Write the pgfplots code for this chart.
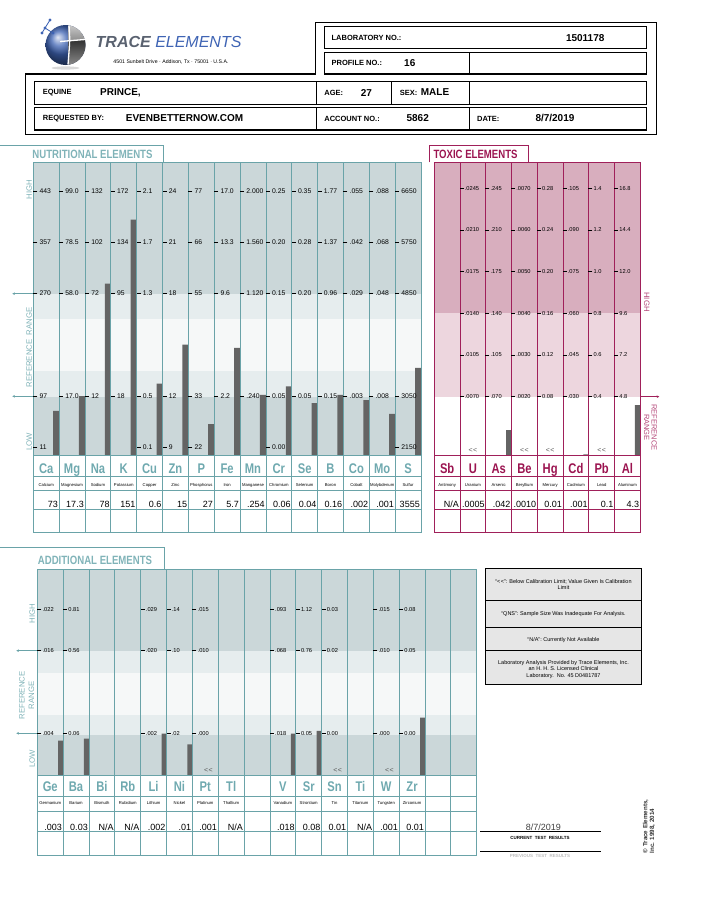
\documentclass[border=0pt]{standalone}
\usepackage{fontspec}
\setmainfont{Liberation Sans}
\newfontfamily\condfont[FakeStretch=0.8]{Liberation Sans}
\usepackage{pgfplots}
\usepackage{pgfplotstable}
\pgfplotsset{compat=1.18}
\usetikzlibrary{arrows.meta}

\definecolor{tealline}{HTML}{6AA3A8}
\definecolor{tealtext}{HTML}{80B3B8}
\definecolor{tealsym}{HTML}{6FA9AF}
\definecolor{banddark}{HTML}{CBD7D9}
\definecolor{bandmid}{HTML}{E6EDEE}
\definecolor{bandlight}{HTML}{F6F8F8}
\definecolor{crim}{HTML}{9B1450}
\definecolor{crimline}{HTML}{A0205A}
\definecolor{crimsoft}{HTML}{B4497A}
\definecolor{pinkdark}{HTML}{D8AEBE}
\definecolor{pinklight}{HTML}{EDD6DE}
\definecolor{barcol}{HTML}{646464}
\definecolor{legfill}{HTML}{E6E6E6}
\definecolor{logoblue}{HTML}{3F64B4}
\definecolor{logogray}{HTML}{5A6270}

\newcommand\fs[1]{\fontsize{#1bp}{#1bp}\selectfont}
\protected\def\bcl{<\kern0.4bp<}

\pgfplotsset{
  panel/.style={scale only axis, anchor=north west, enlargelimits=false, axis on top, clip=false,
    xmajorgrids, ymajorgrids, major tick length=0pt, xticklabels={}, yticklabels={},
    grid style={solid, line width=0.8bp, #1}, axis line style={line width=0.8bp, #1}},
  txt/.style={only marks, mark=*, mark size=0pt, mark options={draw=none, fill=none},
    nodes near coords, point meta=explicit symbolic,
    every node near coord/.append style={inner sep=0pt, #1}},
  tck/.style={only marks, mark=-, mark size=2bp, mark options={draw=black, line width=0.6bp},
    nodes near coords, point meta=explicit symbolic,
    every node near coord/.append style={anchor=west, inner sep=0pt, text=black, #1}},
  below/.style={only marks, mark=*, mark size=0pt, mark options={draw=none, fill=none},
    nodes near coords={\bcl},
    every node near coord/.append style={anchor=center, inner sep=0pt, font=\fs{7}, text=black!65}},
}

% nutritional elements
\pgfplotstableread{
c s n v
0 Ca Calcium 73
1 Mg Magnesium 17.3
2 Na Sodium 78
3 K Potassium 151
4 Cu Copper 0.6
5 Zn Zinc 15
6 P Phosphorus 27
7 Fe Iron 5.7
8 Mn Manganese .254
9 Cr Chromium 0.06
10 Se Selenium 0.04
11 B Boron 0.16
12 Co Cobalt .002
13 Mo Molybdenum .001
14 S Sulfur 3555
}\nutri
% bar heights in scale steps (0 = lowest tick)
\pgfplotstableread{
c lv
0 0.71
1 1.00
2 3.19
3 4.44
4 1.24
5 2.00
6 0.45
7 1.94
8 1.02
9 1.19
10 0.86
11 1.02
12 0.92
13 0.65
14 1.55
}\nutbars
\pgfplotstableread{
c lv l
0 5 443
0 4 357
0 3 270
0 1 97
0 0 11
1 5 99.0
1 4 78.5
1 3 58.0
1 1 17.0
2 5 132
2 4 102
2 3 72
2 1 12
3 5 172
3 4 134
3 3 95
3 1 18
4 5 2.1
4 4 1.7
4 3 1.3
4 1 0.5
4 0 0.1
5 5 24
5 4 21
5 3 18
5 1 12
5 0 9
6 5 77
6 4 66
6 3 55
6 1 33
6 0 22
7 5 17.0
7 4 13.3
7 3 9.6
7 1 2.2
8 5 2.000
8 4 1.560
8 3 1.120
8 1 .240
9 5 0.25
9 4 0.20
9 3 0.15
9 1 0.05
9 0 0.00
10 5 0.35
10 4 0.28
10 3 0.20
10 1 0.05
11 5 1.77
11 4 1.37
11 3 0.96
11 1 0.15
12 5 .055
12 4 .042
12 3 .029
12 1 .003
13 5 .088
13 4 .068
13 3 .048
13 1 .008
14 5 6650
14 4 5750
14 3 4850
14 1 3050
14 0 2150
}\nutticks

% toxic elements
\pgfplotstableread{
c s n v
0 Sb Antimony N/A
1 U Uranium .0005
2 As Arsenic .042
3 Be Beryllium .0010
4 Hg Mercury 0.01
5 Cd Cadmium .001
6 Pb Lead 0.1
7 Al Aluminum 4.3
}\tox
\pgfplotstableread{
c lv
2 -0.80
5 -1.38
7 -0.20
}\toxbars
\pgfplotstableread{
c lv l
1 5 .0245
1 4 .0210
1 3 .0175
1 2 .0140
1 1 .0105
1 0 .0070
2 5 .245
2 4 .210
2 3 .175
2 2 .140
2 1 .105
2 0 .070
3 5 .0070
3 4 .0060
3 3 .0050
3 2 .0040
3 1 .0030
3 0 .0020
4 5 0.28
4 4 0.24
4 3 0.20
4 2 0.16
4 1 0.12
4 0 0.08
5 5 .105
5 4 .090
5 3 .075
5 2 .060
5 1 .045
5 0 .030
6 5 1.4
6 4 1.2
6 3 1.0
6 2 0.8
6 1 0.6
6 0 0.4
7 5 16.8
7 4 14.4
7 3 12.0
7 2 9.6
7 1 7.2
7 0 4.8
}\toxticks

% additional elements
\pgfplotstableread{
c s n v
0 Ge Germanium .003
1 Ba Barium 0.03
2 Bi Bismuth N/A
3 Rb Rubidium N/A
4 Li Lithium .002
5 Ni Nickel .01
6 Pt Platinum .001
7 Tl Thallium N/A
9 V Vanadium .018
10 Sr Strontium 0.08
11 Sn Tin 0.01
12 Ti Titanium N/A
13 W Tungsten .001
14 Zr Zirconium 0.01
}\addl
\pgfplotstableread{
c lv
0 -0.18
1 -0.13
4 -0.01
5 -0.27
9 -0.01
10 0.06
14 0.38
}\addbars
\pgfplotstableread{
c lv l
0 3 .022
0 2 .016
0 0 .004
1 3 0.81
1 2 0.56
1 0 0.06
4 3 .029
4 2 .020
4 0 .002
5 3 .14
5 2 .10
5 0 .02
6 3 .015
6 2 .010
6 0 .000
9 3 .093
9 2 .068
9 0 .018
10 3 1.12
10 2 0.76
10 0 0.05
11 3 0.03
11 2 0.02
11 0 0.00
13 3 .015
13 2 .010
13 0 .000
14 3 0.08
14 2 0.05
14 0 0.00
}\addticks

\begin{document}
\begin{tikzpicture}
\path[use as bounding box] (0,0) rectangle (703bp,-909bp);

% ---------------- nutritional
\begin{axis}[panel=tealline, at={(33.3bp,-162.3bp)}, width=387.7bp, height=369.7bp,
  xmin=0, xmax=15, ymin=-76.3, ymax=293.4,
  xtick={0,...,15}, ytick={0,-20.3,-35,-53.6}]
\addplot[draw=none, fill=banddark] coordinates {(0,0) (15,0) (15,59) (0,59)};
\addplot[draw=none, fill=bandmid] coordinates {(0,59) (15,59) (15,85) (0,85)};
\addplot[draw=none, fill=bandlight] coordinates {(0,85) (15,85) (15,136.7) (0,136.7)};
\addplot[draw=none, fill=bandmid] coordinates {(0,136.7) (15,136.7) (15,161.7) (0,161.7)};
\addplot[draw=none, fill=banddark] coordinates {(0,161.7) (15,161.7) (15,293.4) (0,293.4)};
\addplot[ybar, bar width=6bp, fill=barcol, draw=none]
  table[x expr=\thisrow{c}+0.884, y expr=8.4+51.3*\thisrow{lv}] {\nutbars};
\addplot[tck={font=\fs{6.8}, xshift=4bp}]
  table[x expr=\thisrow{c}+0.077, y expr=8.4+51.3*\thisrow{lv}, meta=l] {\nutticks};
\addplot[txt={anchor=base, font=\condfont\fs{14}\bfseries, text=tealsym}]
  table[x expr=\thisrow{c}+0.5, y expr=-17.8, meta=s] {\nutri};
\addplot[txt={anchor=base, font=\fs{4.2}}]
  table[x expr=\thisrow{c}+0.5, y expr=-30.3, meta=n] {\nutri};
\addplot[txt={anchor=base east, font=\fs{9}}]
  table[x expr=\thisrow{c}+0.96, y expr=-51.3, meta=v] {\nutri};
\end{axis}

% ---------------- toxic
\begin{axis}[panel=crimline, at={(434.3bp,-162.3bp)}, width=206bp, height=369.7bp,
  xmin=0, xmax=8, ymin=-76.3, ymax=293.4,
  xtick={0,...,8}, ytick={0,-20.3,-35,-53.6}]
\addplot[draw=none, fill=pinklight] coordinates {(0,59) (8,59) (8,143) (0,143)};
\addplot[draw=none, fill=pinkdark] coordinates {(0,143) (8,143) (8,293.4) (0,293.4)};
\addplot[ybar, bar width=5.3bp, fill=barcol, draw=none]
  table[x expr=\thisrow{c}+0.895, y expr=59+41.7*\thisrow{lv}] {\toxbars};
\addplot[tck={font=\fs{5.7}, xshift=3bp}]
  table[x expr=\thisrow{c}+0.06, y expr=59+41.7*\thisrow{lv}, meta=l] {\toxticks};
\addplot[below] coordinates {(1.5,5.7) (3.5,5.7) (4.5,5.7) (6.5,5.7)};
\addplot[txt={anchor=base, font=\condfont\fs{14}\bfseries, text=crim}]
  table[x expr=\thisrow{c}+0.5, y expr=-17.8, meta=s] {\tox};
\addplot[txt={anchor=base, font=\fs{4.2}}]
  table[x expr=\thisrow{c}+0.5, y expr=-30.3, meta=n] {\tox};
\addplot[txt={anchor=base east, font=\fs{9}}]
  table[x expr=\thisrow{c}+0.96, y expr=-51.3, meta=v] {\tox};
\end{axis}

% ---------------- additional
\begin{axis}[panel=tealline, at={(37.3bp,-569.3bp)}, width=439.4bp, height=285.7bp,
  xmin=0, xmax=17, ymin=-79.3, ymax=206.4,
  xtick={0,...,17}, ytick={0,-21,-36,-56}]
\addplot[draw=none, fill=banddark] coordinates {(0,0) (17,0) (17,40.7) (0,40.7)};
\addplot[draw=none, fill=bandmid] coordinates {(0,40.7) (17,40.7) (17,60.7) (0,60.7)};
\addplot[draw=none, fill=bandlight] coordinates {(0,60.7) (17,60.7) (17,103) (0,103)};
\addplot[draw=none, fill=bandmid] coordinates {(0,103) (17,103) (17,124.7) (0,124.7)};
\addplot[draw=none, fill=banddark] coordinates {(0,124.7) (17,124.7) (17,206.4) (0,206.4)};
\addplot[ybar, bar width=5bp, fill=barcol, draw=none]
  table[x expr=\thisrow{c}+0.903, y expr=42.4+41.3*\thisrow{lv}] {\addbars};
\addplot[tck={font=\fs{5.7}, xshift=3bp}]
  table[x expr=\thisrow{c}+0.077, y expr=42.4+41.3*\thisrow{lv}, meta=l] {\addticks};
\addplot[below] coordinates {(6.62,5.7) (11.62,5.7) (13.62,5.7)};
\addplot[txt={anchor=base, font=\condfont\fs{14}\bfseries, text=tealsym}]
  table[x expr=\thisrow{c}+0.5, y expr=-15.5, meta=s] {\addl};
\addplot[txt={anchor=base, font=\fs{4.2}}]
  table[x expr=\thisrow{c}+0.5, y expr=-29, meta=n] {\addl};
\addplot[txt={anchor=base east, font=\fs{9}}]
  table[x expr=\thisrow{c}+0.96, y expr=-54.7, meta=v] {\addl};
\end{axis}

% ---------------- page furniture, in pixel coordinates
\begin{scope}[x=1bp, y=-1bp]
  % logo
  \fill[black!15] (65.5,68) ellipse (14 and 1.6);
  \begin{scope}
    \clip (65.5,45) circle (20);
    \shade[ball color=logoblue] (65.5,45) circle (20);
    \shade[top color=black!20, bottom color=black!45] (68.5,24) rectangle (86,40.5);
    \shade[top color=black!80, bottom color=black!45] (68.5,40.5) rectangle (86,66);
  \end{scope}
  \draw[white, line width=1.3bp] (69,25.5) .. controls (70,40) .. (68,64.5);
  \draw[white, line width=1.3bp] (60,41.5) -- (85,39.5);
  \draw[logoblue, line width=0.8bp] (50,20) -- (45,28) -- (53,33) (45,28) -- (42,33);
  \foreach \p in {(50,20),(45,28),(53,33),(42,33)} \fill[logoblue] \p circle (1.6);
  \node[anchor=west, inner sep=0] at (95.5,41.7)
    {\fs{16}\itshape\bfseries\color{logogray}TRACE \mdseries\color{logoblue}ELEMENTS};
  \node[anchor=west, inner sep=0] at (113.3,61.7)
    {\fs{5.2}4501 Sunbelt Drive · Addison, Tx · 75001 · U.S.A.};

  % header boxes
  \begin{scope}[line width=1.1bp]
    \draw (25.6,74) -- (315.7,74) -- (315.7,22.3) -- (656.5,22.3) -- (656.5,134.3) -- (25.6,134.3) -- cycle;
    \draw (324.2,26.3) rectangle (646.6,48.7);
    \draw (324.2,52.3) rectangle (646.6,74) (469.2,52.3) -- (469.2,74);
    \draw (34.6,81.3) rectangle (646.6,104.3)
          (316.1,81.3) -- (316.1,104.3) (391.1,81.3) -- (391.1,104.3) (469.2,81.3) -- (469.2,104.3);
    \draw (34.6,107.3) rectangle (646.6,130)
          (316.1,107.3) -- (316.1,130) (469.2,107.3) -- (469.2,130);
  \end{scope}
  \begin{scope}[every node/.style={anchor=west, inner sep=0}]
    \node at (331.4,38) {\fs{7.5}\bfseries LABORATORY NO.:};
    \node at (565.8,38) {\fs{10}\bfseries 1501178};
    \node at (331.4,63) {\fs{7.5}\bfseries PROFILE NO.:};
    \node at (404,63) {\fs{10}\bfseries 16};
    \node at (42.7,92.8) {\fs{7.5}\bfseries EQUINE};
    \node at (100,92.3) {\fs{10}\bfseries PRINCE,};
    \node at (324.2,93.3) {\fs{7.5}\bfseries AGE:};
    \node at (360.6,92.8) {\fs{10}\bfseries 27};
    \node at (399.6,93) {\fs{7.5}\bfseries SEX:};
    \node at (420.7,92.3) {\fs{10}\bfseries MALE};
    \node at (42.7,118.7) {\fs{7.5}\bfseries REQUESTED BY:};
    \node at (125.7,117.8) {\fs{10}\bfseries EVENBETTERNOW.COM};
    \node at (324.2,118.7) {\fs{7.5}\bfseries ACCOUNT NO.:};
    \node at (406.4,117.8) {\fs{10}\bfseries 5862};
    \node at (476.9,118.7) {\fs{7.5}\bfseries DATE:};
    \node at (535.3,117.8) {\fs{10}\bfseries 8/7/2019};
  \end{scope}

  % section tabs
  \draw[tealline, line width=0.8bp] (0,145.3) -- (163.3,145.3) -- (163.3,162.3);
  \node[anchor=west, inner sep=0, text=tealtext] at (32.3,154.7) {\condfont\fs{12}\bfseries NUTRITIONAL ELEMENTS};
  \draw[crimline, line width=0.8bp] (429,162.3) -- (429,145.3) -- (528.3,145.3) -- (528.3,162.3);
  \node[anchor=west, inner sep=0, text=crim] at (433.3,154.7) {\condfont\fs{12}\bfseries TOXIC ELEMENTS};
  \draw[tealline, line width=0.8bp] (0,547.3) -- (164.3,547.3) -- (164.3,569.3);
  \node[anchor=west, inner sep=0, text=tealtext] at (37.7,560) {\condfont\fs{12}\bfseries ADDITIONAL ELEMENTS};

  % side labels, nutritional and additional
  \begin{scope}[every node/.style={rotate=90, inner sep=0, text=tealtext, font=\fs{7.8}}]
    \node at (29.3,189.7) {HIGH};
    \node at (29.3,347.5) {REFERENCE\ \ RANGE};
    \node at (29.3,442) {LOW};
    \node at (32.3,613.8) {HIGH};
    \node[align=center, font=\fs{7.8}\linespread{1.2}\selectfont] at (26.7,695.5) {REFERENCE\\RANGE};
    \node at (32.3,759) {LOW};
  \end{scope}
  \foreach \yy in {293.7,396.3}
    \draw[tealline, line width=0.7bp, {Stealth[length=2.6bp,width=2.6bp]}-] (12.3,\yy) -- (33.3,\yy);
  \foreach \yy in {650.7,733.3}
    \draw[tealline, line width=0.7bp, {Stealth[length=2.6bp,width=2.6bp]}-] (16.3,\yy) -- (37.3,\yy);
  % side labels, toxic
  \node[rotate=-90, inner sep=0, text=crimsoft, font=\fs{7.8}] at (646.7,302) {HIGH};
  \node[rotate=-90, inner sep=0, text=crimsoft, align=center, font=\fs{7.5}] at (650.5,427.5) {REFERENCE\\RANGE};
  \draw[crimline, line width=0.7bp, -{Stealth[length=2.6bp,width=2.6bp]}] (640.3,396.7) -- (659.3,396.7);

  % legend box
  \draw[line width=0.9bp, fill=legfill] (485.7,568.3) rectangle (641.3,684.3);
  \draw[line width=0.9bp] (485.7,600.7) -- (641.3,600.7) (485.7,627.7) -- (641.3,627.7) (485.7,650.3) -- (641.3,650.3);
  \begin{scope}[every node/.style={align=center, inner sep=0, font=\fs{5.5}\linespread{1.2}\selectfont}]
    \node at (563.5,584.5) {“\bcl”: Below Calibration Limit; Value Given Is Calibration\\Limit};
    \node at (563.5,614.3) {“QNS”: Sample Size Was Inadequate For Analysis.};
    \node at (563.5,640.3) {“N/A”: Currently Not Available};
    \node at (563.5,669.5) {Laboratory Analysis Provided by Trace Elements, Inc.\\an H. H. S. Licensed Clinical\\Laboratory.\ \ No. 45 D0481787};
  \end{scope}

  % test results block
  \node[anchor=base, inner sep=0, text=black!75] at (543.3,830) {\fs{9}8/7/2019};
  \draw[line width=0.8bp] (480,831) -- (600.7,831) (480,851.7) -- (600.7,851.7);
  \node[inner sep=0] at (540,837.7) {\fs{4.5}\bfseries CURRENT\ \ TEST\ \ RESULTS};
  \node[inner sep=0, text=black!25] at (540,856) {\fs{4.5}\bfseries PREVIOUS\ \ TEST\ \ RESULTS};
  \node[rotate=90, anchor=west, inner sep=0, align=left, text=black!80,
        font=\fs{6.2}\bfseries\linespread{1.1}\selectfont] at (649,853.3) {© Trace Elements,\\Inc. 1998, 2014};
\end{scope}
\end{tikzpicture}
\end{document}
